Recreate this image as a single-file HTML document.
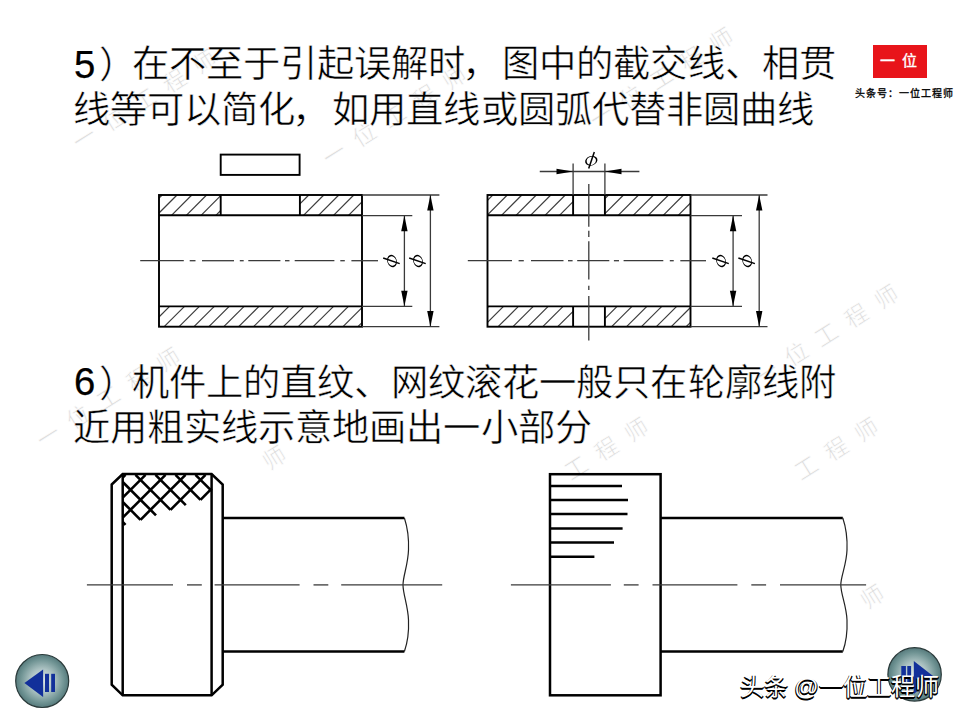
<!DOCTYPE html>
<html lang="zh-CN"><head><meta charset="utf-8"><style>
html,body{margin:0;padding:0;background:#fff;}
body{width:960px;height:720px;position:relative;overflow:hidden;}
.t{position:absolute;font-family:"Liberation Sans",sans-serif;font-size:37.33px;line-height:0;white-space:nowrap;color:#000;}
.t span{display:inline-block;vertical-align:baseline;}
.t .c{width:37.05px;-webkit-text-stroke:0.5px #fff;}
.t .p{position:relative;left:4px;top:1px;}
.t .q{position:relative;left:-3px;}
.t .d{position:relative;top:1px;font-size:38.3px;-webkit-text-stroke:0.25px #000;width:20.76px;}
svg{position:absolute;left:0;top:0;}
.wk{position:absolute;width:24px;height:30px;line-height:30px;text-align:center;font-family:"Liberation Sans",sans-serif;font-size:23px;color:#dcdcdc;transform:rotate(-32deg);-webkit-text-stroke:0.6px #fff;}
.logo{position:absolute;left:873px;top:45px;width:54px;height:33px;background:#e8141a;}
.cap{position:absolute;left:855px;top:85px;font-family:"Liberation Sans",sans-serif;font-size:10px;color:#000;white-space:nowrap;letter-spacing:1px;-webkit-text-stroke:0.3px #000}
.wm{position:absolute;left:739.5px;top:672px;font-family:"Liberation Sans",sans-serif;font-size:24px;line-height:30px;color:#fff;white-space:nowrap;text-shadow:-0.8px 1px 0 #000,1px 1px 0 #000,0 1.5px 0.5px #000;}
.wm .w{display:inline-block;width:24px;}
.lt{position:absolute;left:880px;top:49px;font-family:"Liberation Sans",sans-serif;font-size:15px;line-height:24px;color:#fff;white-space:nowrap;letter-spacing:7px;-webkit-text-stroke:0.4px #fff}
</style></head><body>
<span class="wk" style="left:73.0px;top:123.0px">一</span><span class="wk" style="left:103.0px;top:104.0px">位</span><span class="wk" style="left:133.0px;top:85.0px">工</span><span class="wk" style="left:163.0px;top:66.0px">程</span><span class="wk" style="left:193.0px;top:47.0px">师</span><span class="wk" style="left:323.0px;top:139.0px">一</span><span class="wk" style="left:353.0px;top:120.0px">位</span><span class="wk" style="left:383.0px;top:101.0px">工</span><span class="wk" style="left:413.0px;top:82.0px">程</span><span class="wk" style="left:443.0px;top:63.0px">师</span><span class="wk" style="left:590.0px;top:101.0px">一</span><span class="wk" style="left:620.0px;top:82.0px">位</span><span class="wk" style="left:650.0px;top:63.0px">工</span><span class="wk" style="left:680.0px;top:44.0px">程</span><span class="wk" style="left:710.0px;top:25.0px">师</span><span class="wk" style="left:37.0px;top:421.0px">一</span><span class="wk" style="left:67.0px;top:402.0px">位</span><span class="wk" style="left:97.0px;top:383.0px">工</span><span class="wk" style="left:127.0px;top:364.0px">程</span><span class="wk" style="left:157.0px;top:345.0px">师</span><span class="wk" style="left:263.0px;top:443.0px">师</span><span class="wk" style="left:755.0px;top:358.0px">一</span><span class="wk" style="left:785.0px;top:339.0px">位</span><span class="wk" style="left:815.0px;top:320.0px">工</span><span class="wk" style="left:845.0px;top:301.0px">程</span><span class="wk" style="left:875.0px;top:282.0px">师</span><span class="wk" style="left:565.0px;top:453.0px">工</span><span class="wk" style="left:595.0px;top:434.0px">程</span><span class="wk" style="left:625.0px;top:415.0px">师</span><span class="wk" style="left:795.0px;top:453.0px">工</span><span class="wk" style="left:825.0px;top:434.0px">程</span><span class="wk" style="left:855.0px;top:415.0px">师</span><span class="wk" style="left:861.0px;top:582.0px">师</span>
<svg width="960" height="720" viewBox="0 0 960 720"><defs>
<radialGradient id="btng" cx="50%" cy="50%" r="50%">
<stop offset="0" stop-color="#e2ebe9"/><stop offset="0.45" stop-color="#adc3c3"/><stop offset="0.82" stop-color="#6f9393"/><stop offset="1" stop-color="#567a7c"/>
</radialGradient></defs><rect x="220.7" y="154.6" width="78.9" height="20.3" fill="none" stroke="#000" stroke-width="1.9"/><line x1="159" y1="198.2" x2="162.2" y2="195" stroke="#3c3c3c" stroke-width="1.2"/><line x1="159" y1="213.0" x2="177.0" y2="195" stroke="#3c3c3c" stroke-width="1.2"/><line x1="171.5" y1="215.3" x2="191.8" y2="195" stroke="#3c3c3c" stroke-width="1.2"/><line x1="186.3" y1="215.3" x2="206.6" y2="195" stroke="#3c3c3c" stroke-width="1.2"/><line x1="201.1" y1="215.3" x2="220.7" y2="195.7" stroke="#3c3c3c" stroke-width="1.2"/><line x1="215.9" y1="215.3" x2="220.7" y2="210.5" stroke="#3c3c3c" stroke-width="1.2"/><line x1="299.9" y1="203.9" x2="308.8" y2="195" stroke="#3c3c3c" stroke-width="1.2"/><line x1="303.5" y1="215.3" x2="323.8" y2="195" stroke="#3c3c3c" stroke-width="1.2"/><line x1="318.5" y1="215.3" x2="338.8" y2="195" stroke="#3c3c3c" stroke-width="1.2"/><line x1="333.5" y1="215.3" x2="353.8" y2="195" stroke="#3c3c3c" stroke-width="1.2"/><line x1="348.5" y1="215.3" x2="362" y2="201.8" stroke="#3c3c3c" stroke-width="1.2"/><line x1="159" y1="317.0" x2="169.6" y2="306.4" stroke="#3c3c3c" stroke-width="1.2"/><line x1="164.2" y1="326.7" x2="184.5" y2="306.4" stroke="#3c3c3c" stroke-width="1.2"/><line x1="179.1" y1="326.7" x2="199.4" y2="306.4" stroke="#3c3c3c" stroke-width="1.2"/><line x1="194.0" y1="326.7" x2="214.3" y2="306.4" stroke="#3c3c3c" stroke-width="1.2"/><line x1="208.9" y1="326.7" x2="229.2" y2="306.4" stroke="#3c3c3c" stroke-width="1.2"/><line x1="223.8" y1="326.7" x2="244.1" y2="306.4" stroke="#3c3c3c" stroke-width="1.2"/><line x1="238.7" y1="326.7" x2="259.0" y2="306.4" stroke="#3c3c3c" stroke-width="1.2"/><line x1="253.6" y1="326.7" x2="273.9" y2="306.4" stroke="#3c3c3c" stroke-width="1.2"/><line x1="268.5" y1="326.7" x2="288.8" y2="306.4" stroke="#3c3c3c" stroke-width="1.2"/><line x1="283.4" y1="326.7" x2="303.7" y2="306.4" stroke="#3c3c3c" stroke-width="1.2"/><line x1="298.3" y1="326.7" x2="318.6" y2="306.4" stroke="#3c3c3c" stroke-width="1.2"/><line x1="313.2" y1="326.7" x2="333.5" y2="306.4" stroke="#3c3c3c" stroke-width="1.2"/><line x1="328.1" y1="326.7" x2="348.4" y2="306.4" stroke="#3c3c3c" stroke-width="1.2"/><line x1="343.0" y1="326.7" x2="362" y2="307.7" stroke="#3c3c3c" stroke-width="1.2"/><line x1="357.9" y1="326.7" x2="362" y2="322.6" stroke="#3c3c3c" stroke-width="1.2"/><rect x="159" y="195" width="203" height="131.7" fill="none" stroke="#000" stroke-width="1.9"/><line x1="159" y1="215.3" x2="362" y2="215.3" stroke="#000" stroke-width="1.9"/><line x1="159" y1="306.4" x2="362" y2="306.4" stroke="#000" stroke-width="1.9"/><line x1="220.7" y1="195" x2="220.7" y2="215.3" stroke="#000" stroke-width="1.9"/><line x1="299.9" y1="195" x2="299.9" y2="215.3" stroke="#000" stroke-width="1.9"/><line x1="140.2" y1="260.7" x2="183.8" y2="260.7" stroke="#3a3a3a" stroke-width="1.3"/><line x1="189.7" y1="260.7" x2="195.5" y2="260.7" stroke="#3a3a3a" stroke-width="1.3"/><line x1="202" y1="260.7" x2="234" y2="260.7" stroke="#3a3a3a" stroke-width="1.3"/><line x1="239.8" y1="260.7" x2="243.7" y2="260.7" stroke="#3a3a3a" stroke-width="1.3"/><line x1="248.3" y1="260.7" x2="280.4" y2="260.7" stroke="#3a3a3a" stroke-width="1.3"/><line x1="285" y1="260.7" x2="289.5" y2="260.7" stroke="#3a3a3a" stroke-width="1.3"/><line x1="294.7" y1="260.7" x2="334.4" y2="260.7" stroke="#3a3a3a" stroke-width="1.3"/><line x1="340.3" y1="260.7" x2="344.8" y2="260.7" stroke="#3a3a3a" stroke-width="1.3"/><line x1="351.4" y1="260.7" x2="378" y2="260.7" stroke="#3a3a3a" stroke-width="1.3"/><line x1="362" y1="195" x2="439.4" y2="195" stroke="#3a3a3a" stroke-width="1.3"/><line x1="362" y1="326.7" x2="439.4" y2="326.7" stroke="#3a3a3a" stroke-width="1.3"/><line x1="362" y1="215.6" x2="412.3" y2="215.6" stroke="#3a3a3a" stroke-width="1.3"/><line x1="362" y1="306.3" x2="412.3" y2="306.3" stroke="#3a3a3a" stroke-width="1.3"/><line x1="404.4" y1="215.6" x2="404.4" y2="306.3" stroke="#3a3a3a" stroke-width="1.3"/><polygon points="404.4,215.6 401.2,231.2 407.59999999999997,231.2" fill="#000"/><polygon points="404.4,306.3 401.2,290.7 407.59999999999997,290.7" fill="#000"/><line x1="430.4" y1="195" x2="430.4" y2="326.7" stroke="#3a3a3a" stroke-width="1.3"/><polygon points="430.4,195 427.2,210.6 433.59999999999997,210.6" fill="#000"/><polygon points="430.4,326.7 427.2,311.09999999999997 433.59999999999997,311.09999999999997" fill="#000"/><g transform="translate(391.5,261) rotate(-90)"><path transform="translate(0,0.5) rotate(-18)" fill-rule="evenodd" fill="#000" d="M-6.3,0 A6.3,4.7 0 1,0 6.3,0 A6.3,4.7 0 1,0 -6.3,0 Z M-4.7,0 A4.7,4.1 0 1,1 4.7,0 A4.7,4.1 0 1,1 -4.7,0 Z"/><line x1="3.0" y1="-8.3" x2="-2.6" y2="8.2" stroke="#000" stroke-width="1.5"/></g><g transform="translate(417.5,261) rotate(-90)"><path transform="translate(0,0.5) rotate(-18)" fill-rule="evenodd" fill="#000" d="M-6.3,0 A6.3,4.7 0 1,0 6.3,0 A6.3,4.7 0 1,0 -6.3,0 Z M-4.7,0 A4.7,4.1 0 1,1 4.7,0 A4.7,4.1 0 1,1 -4.7,0 Z"/><line x1="3.0" y1="-8.3" x2="-2.6" y2="8.2" stroke="#000" stroke-width="1.5"/></g><line x1="487.5" y1="200.3" x2="492.8" y2="195" stroke="#3c3c3c" stroke-width="1.2"/><line x1="487.5" y1="214.8" x2="507.3" y2="195" stroke="#3c3c3c" stroke-width="1.2"/><line x1="501.5" y1="215.3" x2="521.8" y2="195" stroke="#3c3c3c" stroke-width="1.2"/><line x1="516.0" y1="215.3" x2="536.3" y2="195" stroke="#3c3c3c" stroke-width="1.2"/><line x1="530.5" y1="215.3" x2="550.8" y2="195" stroke="#3c3c3c" stroke-width="1.2"/><line x1="545.0" y1="215.3" x2="565.3" y2="195" stroke="#3c3c3c" stroke-width="1.2"/><line x1="559.5" y1="215.3" x2="573.1" y2="201.7" stroke="#3c3c3c" stroke-width="1.2"/><line x1="604.9" y1="198.6" x2="608.5" y2="195" stroke="#3c3c3c" stroke-width="1.2"/><line x1="604.9" y1="213.6" x2="623.5" y2="195" stroke="#3c3c3c" stroke-width="1.2"/><line x1="618.2" y1="215.3" x2="638.5" y2="195" stroke="#3c3c3c" stroke-width="1.2"/><line x1="633.2" y1="215.3" x2="653.5" y2="195" stroke="#3c3c3c" stroke-width="1.2"/><line x1="648.2" y1="215.3" x2="668.5" y2="195" stroke="#3c3c3c" stroke-width="1.2"/><line x1="663.2" y1="215.3" x2="683.5" y2="195" stroke="#3c3c3c" stroke-width="1.2"/><line x1="678.2" y1="215.3" x2="690.5" y2="203.0" stroke="#3c3c3c" stroke-width="1.2"/><line x1="487.5" y1="307.5" x2="488.6" y2="306.4" stroke="#3c3c3c" stroke-width="1.2"/><line x1="487.5" y1="322.4" x2="503.5" y2="306.4" stroke="#3c3c3c" stroke-width="1.2"/><line x1="498.1" y1="326.7" x2="518.4" y2="306.4" stroke="#3c3c3c" stroke-width="1.2"/><line x1="513.0" y1="326.7" x2="533.3" y2="306.4" stroke="#3c3c3c" stroke-width="1.2"/><line x1="527.9" y1="326.7" x2="548.2" y2="306.4" stroke="#3c3c3c" stroke-width="1.2"/><line x1="542.8" y1="326.7" x2="563.1" y2="306.4" stroke="#3c3c3c" stroke-width="1.2"/><line x1="557.7" y1="326.7" x2="573.1" y2="311.3" stroke="#3c3c3c" stroke-width="1.2"/><line x1="572.6" y1="326.7" x2="573.1" y2="326.2" stroke="#3c3c3c" stroke-width="1.2"/><line x1="604.9" y1="318.6" x2="617.1" y2="306.4" stroke="#3c3c3c" stroke-width="1.2"/><line x1="611.7" y1="326.7" x2="632.0" y2="306.4" stroke="#3c3c3c" stroke-width="1.2"/><line x1="626.6" y1="326.7" x2="646.9" y2="306.4" stroke="#3c3c3c" stroke-width="1.2"/><line x1="641.5" y1="326.7" x2="661.8" y2="306.4" stroke="#3c3c3c" stroke-width="1.2"/><line x1="656.4" y1="326.7" x2="676.7" y2="306.4" stroke="#3c3c3c" stroke-width="1.2"/><line x1="671.3" y1="326.7" x2="690.5" y2="307.5" stroke="#3c3c3c" stroke-width="1.2"/><line x1="686.2" y1="326.7" x2="690.5" y2="322.4" stroke="#3c3c3c" stroke-width="1.2"/><rect x="487.5" y="195" width="203.0" height="131.7" fill="none" stroke="#000" stroke-width="1.9"/><line x1="487.5" y1="215.3" x2="690.5" y2="215.3" stroke="#000" stroke-width="1.9"/><line x1="487.5" y1="306.4" x2="690.5" y2="306.4" stroke="#000" stroke-width="1.9"/><line x1="573.1" y1="195" x2="573.1" y2="215.3" stroke="#000" stroke-width="1.9"/><line x1="573.1" y1="306.4" x2="573.1" y2="326.7" stroke="#000" stroke-width="1.9"/><line x1="573.1" y1="163.5" x2="573.1" y2="195" stroke="#3a3a3a" stroke-width="1.3"/><line x1="604.9" y1="195" x2="604.9" y2="215.3" stroke="#000" stroke-width="1.9"/><line x1="604.9" y1="306.4" x2="604.9" y2="326.7" stroke="#000" stroke-width="1.9"/><line x1="604.9" y1="163.5" x2="604.9" y2="195" stroke="#3a3a3a" stroke-width="1.3"/><line x1="467.8" y1="260.7" x2="512" y2="260.7" stroke="#3a3a3a" stroke-width="1.3"/><line x1="518.6" y1="260.7" x2="523.8" y2="260.7" stroke="#3a3a3a" stroke-width="1.3"/><line x1="531" y1="260.7" x2="563.5" y2="260.7" stroke="#3a3a3a" stroke-width="1.3"/><line x1="568" y1="260.7" x2="572.6" y2="260.7" stroke="#3a3a3a" stroke-width="1.3"/><line x1="577.2" y1="260.7" x2="609.3" y2="260.7" stroke="#3a3a3a" stroke-width="1.3"/><line x1="613.9" y1="260.7" x2="619" y2="260.7" stroke="#3a3a3a" stroke-width="1.3"/><line x1="623.6" y1="260.7" x2="663.3" y2="260.7" stroke="#3a3a3a" stroke-width="1.3"/><line x1="669.8" y1="260.7" x2="673.75" y2="260.7" stroke="#3a3a3a" stroke-width="1.3"/><line x1="680.3" y1="260.7" x2="706" y2="260.7" stroke="#3a3a3a" stroke-width="1.3"/><line x1="588.8" y1="184" x2="588.8" y2="226.7" stroke="#3a3a3a" stroke-width="1.3"/><line x1="588.8" y1="230.8" x2="588.8" y2="237" stroke="#3a3a3a" stroke-width="1.3"/><line x1="588.8" y1="241.25" x2="588.8" y2="279.4" stroke="#3a3a3a" stroke-width="1.3"/><line x1="588.8" y1="285.7" x2="588.8" y2="289.9" stroke="#3a3a3a" stroke-width="1.3"/><line x1="588.8" y1="296" x2="588.8" y2="340.5" stroke="#3a3a3a" stroke-width="1.3"/><line x1="690.5" y1="195" x2="767.5" y2="195" stroke="#3a3a3a" stroke-width="1.3"/><line x1="690.5" y1="326.7" x2="767.5" y2="326.7" stroke="#3a3a3a" stroke-width="1.3"/><line x1="690.5" y1="215.6" x2="742" y2="215.6" stroke="#3a3a3a" stroke-width="1.3"/><line x1="690.5" y1="306.3" x2="742" y2="306.3" stroke="#3a3a3a" stroke-width="1.3"/><line x1="733.1" y1="215.6" x2="733.1" y2="306.3" stroke="#3a3a3a" stroke-width="1.3"/><polygon points="733.1,215.6 729.9,231.2 736.3000000000001,231.2" fill="#000"/><polygon points="733.1,306.3 729.9,290.7 736.3000000000001,290.7" fill="#000"/><line x1="759.2" y1="195" x2="759.2" y2="326.7" stroke="#3a3a3a" stroke-width="1.3"/><polygon points="759.2,195 756.0,210.6 762.4000000000001,210.6" fill="#000"/><polygon points="759.2,326.7 756.0,311.09999999999997 762.4000000000001,311.09999999999997" fill="#000"/><g transform="translate(720.6,261) rotate(-90)"><path transform="translate(0,0.5) rotate(-18)" fill-rule="evenodd" fill="#000" d="M-6.3,0 A6.3,4.7 0 1,0 6.3,0 A6.3,4.7 0 1,0 -6.3,0 Z M-4.7,0 A4.7,4.1 0 1,1 4.7,0 A4.7,4.1 0 1,1 -4.7,0 Z"/><line x1="3.0" y1="-8.3" x2="-2.6" y2="8.2" stroke="#000" stroke-width="1.5"/></g><g transform="translate(746.7,261) rotate(-90)"><path transform="translate(0,0.5) rotate(-18)" fill-rule="evenodd" fill="#000" d="M-6.3,0 A6.3,4.7 0 1,0 6.3,0 A6.3,4.7 0 1,0 -6.3,0 Z M-4.7,0 A4.7,4.1 0 1,1 4.7,0 A4.7,4.1 0 1,1 -4.7,0 Z"/><line x1="3.0" y1="-8.3" x2="-2.6" y2="8.2" stroke="#000" stroke-width="1.5"/></g><line x1="539.75" y1="171.5" x2="639.4" y2="171.5" stroke="#3a3a3a" stroke-width="1.3"/><polygon points="573.1,171.5 556.5,168.7 556.5,174.3" fill="#000"/><polygon points="604.9,171.5 621.5,168.7 621.5,174.3" fill="#000"/><g transform="translate(591.3,160.3) rotate(0)"><path transform="translate(0,0.5) rotate(-18)" fill-rule="evenodd" fill="#000" d="M-6.3,0 A6.3,4.7 0 1,0 6.3,0 A6.3,4.7 0 1,0 -6.3,0 Z M-4.7,0 A4.7,4.1 0 1,1 4.7,0 A4.7,4.1 0 1,1 -4.7,0 Z"/><line x1="3.0" y1="-8.3" x2="-2.6" y2="8.2" stroke="#000" stroke-width="1.5"/></g><polygon points="111.7,484.5 122.7,474 211.6,474 222.7,484.5 222.7,684.7 211.6,695.3 122.7,695.3 111.7,684.7" fill="none" stroke="#000" stroke-width="2.5" stroke-linejoin="miter"/><line x1="122.7" y1="474" x2="122.7" y2="695.3" stroke="#000" stroke-width="2.5"/><line x1="211.6" y1="474" x2="211.6" y2="695.3" stroke="#000" stroke-width="2.5"/><line x1="222.7" y1="518" x2="404.4" y2="518" stroke="#000" stroke-width="2.5"/><line x1="222.7" y1="651.5" x2="404.4" y2="651.5" stroke="#000" stroke-width="2.5"/><path d="M404.4,518 C407,526 409,538 408.5,550 C408,565 403,576 403,585 C403,594 408,606 408.5,620 C409,632 407,644 404.4,651.5" fill="none" stroke="#222" stroke-width="1.2"/><line x1="86.9" y1="584.9" x2="173" y2="584.9" stroke="#3a3a3a" stroke-width="1.3"/><line x1="187" y1="584.9" x2="201.8" y2="584.9" stroke="#3a3a3a" stroke-width="1.3"/><line x1="214.6" y1="584.9" x2="299.6" y2="584.9" stroke="#3a3a3a" stroke-width="1.3"/><line x1="313.5" y1="584.9" x2="328.3" y2="584.9" stroke="#3a3a3a" stroke-width="1.3"/><line x1="341.2" y1="584.9" x2="442.2" y2="584.9" stroke="#3a3a3a" stroke-width="1.3"/><g transform="translate(0,0.8)"><line x1="122.7" y1="476.8" x2="125.5" y2="474" stroke="#000" stroke-width="2.6"/><line x1="122.7" y1="496.8" x2="145.5" y2="474" stroke="#000" stroke-width="2.6"/><line x1="122.7" y1="516.8" x2="165.5" y2="474" stroke="#000" stroke-width="2.6"/><line x1="140.5" y1="519" x2="185.5" y2="474" stroke="#000" stroke-width="2.6"/><line x1="170.5" y1="509" x2="205.5" y2="474" stroke="#000" stroke-width="2.6"/><line x1="200.5" y1="499" x2="211.6" y2="487.9" stroke="#000" stroke-width="2.6"/><line x1="122.7" y1="481.2" x2="156" y2="514.5" stroke="#000" stroke-width="2.6"/><line x1="122.7" y1="501.2" x2="140.5" y2="519" stroke="#000" stroke-width="2.6"/><line x1="122.7" y1="521.2" x2="125.5" y2="524" stroke="#000" stroke-width="2.6"/><line x1="135.5" y1="474" x2="170.5" y2="509" stroke="#000" stroke-width="2.6"/><line x1="155.5" y1="474" x2="185.8" y2="504.3" stroke="#000" stroke-width="2.6"/><line x1="175.5" y1="474" x2="200.5" y2="499" stroke="#000" stroke-width="2.6"/><line x1="195.5" y1="474" x2="211.6" y2="490.1" stroke="#000" stroke-width="2.6"/></g><rect x="550" y="474.2" width="110.6" height="221.1" fill="none" stroke="#000" stroke-width="2.5"/><line x1="550" y1="486.1" x2="622" y2="486.1" stroke="#000" stroke-width="2.5"/><line x1="550" y1="500" x2="628" y2="500" stroke="#000" stroke-width="2.5"/><line x1="550" y1="514" x2="627.5" y2="514" stroke="#000" stroke-width="2.5"/><line x1="550" y1="528.5" x2="622.6" y2="528.5" stroke="#000" stroke-width="2.5"/><line x1="550" y1="542.4" x2="614" y2="542.4" stroke="#000" stroke-width="2.5"/><line x1="550" y1="556.7" x2="594.4" y2="556.7" stroke="#000" stroke-width="2.5"/><line x1="660.6" y1="518" x2="842.8" y2="518" stroke="#000" stroke-width="2.5"/><line x1="660.6" y1="651.5" x2="842.8" y2="651.5" stroke="#000" stroke-width="2.5"/><path d="M842.8,518 C845.5,526 847.5,538 847,550 C846.5,565 840.8,576 840.8,585 C840.8,594 846.5,606 847,620 C847.5,632 845.5,644 842.8,651.5" fill="none" stroke="#222" stroke-width="1.2"/><line x1="510.9" y1="584.9" x2="610.9" y2="584.9" stroke="#3a3a3a" stroke-width="1.3"/><line x1="623.8" y1="584.9" x2="638.6" y2="584.9" stroke="#3a3a3a" stroke-width="1.3"/><line x1="652.5" y1="584.9" x2="737.4" y2="584.9" stroke="#3a3a3a" stroke-width="1.3"/><line x1="751.3" y1="584.9" x2="766.1" y2="584.9" stroke="#3a3a3a" stroke-width="1.3"/><line x1="780" y1="584.9" x2="866.1" y2="584.9" stroke="#3a3a3a" stroke-width="1.3"/><circle cx="42.2" cy="681" r="26.5" fill="url(#btng)" stroke="#2a3a3a" stroke-width="1.2"/><polygon points="24.4,683.1 43.1,669.4 43.1,696.9" fill="#12309a"/><rect x="45" y="673.8" width="4" height="18.2" fill="#12309a"/><rect x="51.2" y="673.8" width="3.8" height="18.2" fill="#12309a"/><circle cx="914.6" cy="674.4" r="26.7" fill="url(#btng)" stroke="#2a3a3a" stroke-width="1.2"/><rect x="901.3" y="666" width="4.6" height="18" fill="#12309a"/><rect x="907.3" y="666" width="3.8" height="18" fill="#12309a"/><polygon points="935,677.5 913.8,661 913.8,694" fill="#12309a"/></svg>
<div class="t" style="left:74px;top:64.3px"><span class="d" style="top:1px">5</span><span class="c"><span class="p">）</span></span><span class="c">在</span><span class="c">不</span><span class="c">至</span><span class="c">于</span><span class="c">引</span><span class="c">起</span><span class="c">误</span><span class="c">解</span><span class="c">时</span><span class="c"><span class="q">，</span></span><span class="c">图</span><span class="c">中</span><span class="c">的</span><span class="c">截</span><span class="c">交</span><span class="c">线</span><span class="c">、</span><span class="c">相</span><span class="c">贯</span></div>
<div class="t" style="left:73px;top:109.8px"><span class="c">线</span><span class="c">等</span><span class="c">可</span><span class="c">以</span><span class="c">简</span><span class="c">化</span><span class="c"><span class="q">，</span></span><span class="c">如</span><span class="c">用</span><span class="c">直</span><span class="c">线</span><span class="c">或</span><span class="c">圆</span><span class="c">弧</span><span class="c">代</span><span class="c">替</span><span class="c">非</span><span class="c">圆</span><span class="c">曲</span><span class="c">线</span></div>
<div class="t" style="left:74px;top:383px"><span class="d" style="top:-1px">6</span><span class="c"><span class="p">）</span></span><span class="c">机</span><span class="c">件</span><span class="c">上</span><span class="c">的</span><span class="c">直</span><span class="c">纹</span><span class="c">、</span><span class="c">网</span><span class="c">纹</span><span class="c">滚</span><span class="c">花</span><span class="c">一</span><span class="c">般</span><span class="c">只</span><span class="c">在</span><span class="c">轮</span><span class="c">廓</span><span class="c">线</span><span class="c">附</span></div>
<div class="t" style="left:73px;top:428px"><span class="c">近</span><span class="c">用</span><span class="c">粗</span><span class="c">实</span><span class="c">线</span><span class="c">示</span><span class="c">意</span><span class="c">地</span><span class="c">画</span><span class="c">出</span><span class="c">一</span><span class="c">小</span><span class="c">部</span><span class="c">分</span></div>
<div class="logo"></div><div class="lt">一位</div>
<div class="cap">头条号：一位工程师</div>
<div class="wm"><span class="w">头</span><span class="w">条</span> @<span class="w">一</span><span class="w">位</span><span class="w">工</span><span class="w">程</span><span class="w">师</span></div>
</body></html>
